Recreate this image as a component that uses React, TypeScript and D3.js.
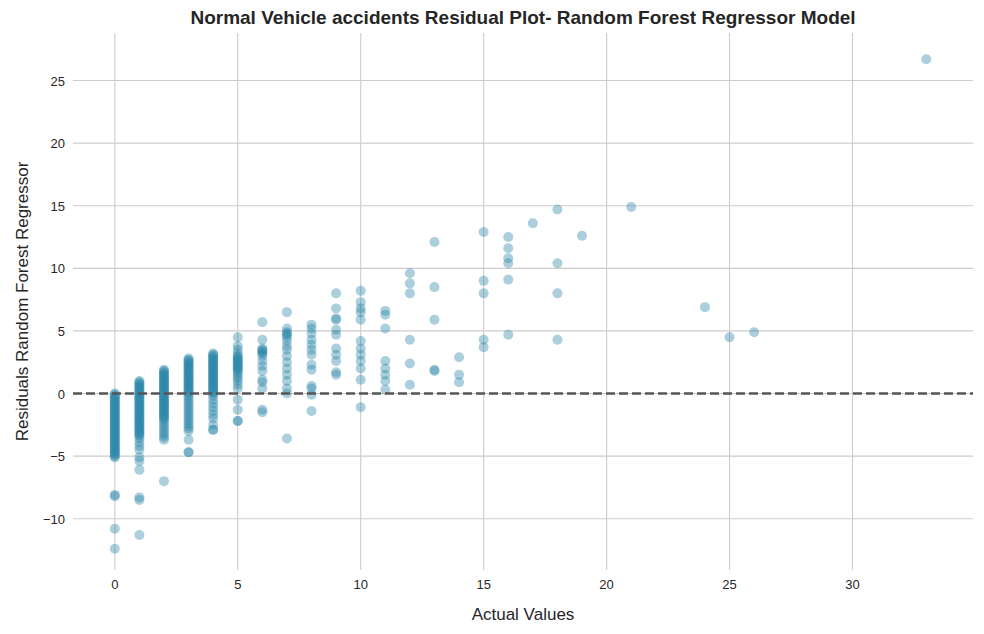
import React from 'react'
import * as d3 from 'd3'

// residuals grouped by actual value
const actual0 = [0, -0.1, -0.2, -0.3, -0.4, -0.5, -0.6, -0.7, -0.8, -0.9, -1, -1.1, -1.2, -1.3, -1.4, -1.5, -1.6, -1.7, -1.8, -1.9, -2, -2.1, -2.2, -2.3, -2.4, -2.5, -2.6, -2.7, -2.8, -2.9, -3, -3.1, -3.2, -3.3, -3.4, -3.5, -3.6, -3.7, -3.8, -3.9, -4, -4.1, -4.2, -4.3, -4.4, -4.5, -4.6, -4.7, -4.8, -4.9, -5, -5.1, -8.1, -8.2, -10.8, -12.4]
const actual1 = [1, 0.9, 0.8, 0.7, 0.6, 0.5, 0.4, 0.3, 0.2, 0.1, 0, -0.1, -0.2, -0.3, -0.4, -0.5, -0.6, -0.7, -0.8, -0.9, -1, -1.1, -1.2, -1.3, -1.4, -1.5, -1.6, -1.7, -1.8, -1.9, -2, -2.1, -2.2, -2.3, -2.4, -2.5, -2.6, -2.7, -2.8, -2.9, -3, -3.1, -3.2, -3.3, -3.4, -3.6, -3.9, -4.2, -4.5, -5.1, -5.4, -6.1, -8.3, -8.5, -11.3]
const actual2 = [1.9, 1.8, 1.7, 1.6, 1.5, 1.4, 1.3, 1.2, 1.1, 1.0, 0.9, 0.8, 0.7, 0.6, 0.5, 0.4, 0.3, 0.2, 0.1, 0, -0.1, -0.2, -0.3, -0.4, -0.5, -0.6, -0.7, -0.8, -0.9, -1.0, -1.1, -1.2, -1.3, -1.4, -1.5, -1.6, -1.7, -1.8, -1.9, -2.0, -2.1, -2.3, -2.5, -2.7, -2.9, -3.1, -3.3, -3.5, -3.7, -7.0]
const actual3 = [2.8, 2.7, 2.6, 2.5, 2.4, 2.3, 2.2, 2.1, 2.0, 1.9, 1.8, 1.7, 1.6, 1.5, 1.4, 1.3, 1.2, 1.1, 1.0, 0.9, 0.8, 0.7, 0.6, 0.5, 0.4, 0.3, 0.2, 0.1, 0, -0.2, -0.4, -0.6, -0.8, -1.0, -1.2, -1.4, -1.6, -1.8, -2.0, -2.2, -2.4, -2.6, -2.8, -3.0, -3.7, -4.7, -4.7]
const actual4 = [3.2, 3.1, 3.0, 2.9, 2.8, 2.7, 2.6, 2.5, 2.4, 2.3, 2.2, 2.1, 2.0, 1.9, 1.8, 1.7, 1.6, 1.5, 1.4, 1.3, 1.2, 1.1, 1.0, 0.9, 0.8, 0.7, 0.6, 0.5, 0.4, 0.3, 0.2, 0.1, 0, -0.2, -0.5, -0.8, -1.1, -1.4, -1.7, -2.0, -2.5, -2.9, -2.9]
const actual5 = [4.5, 3.8, 3.5, 3.2, 3.0, 2.9, 2.8, 2.7, 2.6, 2.5, 2.4, 2.3, 2.2, 2.1, 2.0, 1.9, 1.8, 1.6, 1.4, 1.2, 1.0, 0.7, 0.4, -0.5, -1.3, -2.2, -2.2]
const actual6 = [5.7, 4.3, 3.6, 3.5, 3.4, 3.3, 3.2, 3.0, 2.6, 2.2, 1.8, 1.1, 0.9, 0.4, -1.3, -1.5]
const actual7 = [6.5, 5.2, 4.9, 4.8, 4.7, 4.5, 4.2, 3.8, 3.5, 3.0, 2.5, 2.0, 1.5, 1.0, 0.4, 0, -3.6]
const actual8 = [5.5, 5.2, 4.8, 4.3, 3.9, 3.5, 3.1, 2.3, 1.9, 0.6, 0.4, -0.1, -1.4]
const actual9 = [8.0, 6.8, 6.0, 5.9, 5.1, 4.7, 3.6, 3.1, 2.6, 1.7, 1.5]
const actual10 = [8.2, 7.3, 6.8, 6.5, 5.9, 4.2, 3.6, 3.1, 2.6, 2.0, 1.1, -1.1]
const actual11 = [6.6, 6.3, 5.2, 2.6, 2.0, 1.5, 1.0, 0.3]
const actual12 = [9.6, 8.8, 8.0, 4.3, 2.4, 0.7]
const actual13 = [12.1, 8.5, 5.9, 1.9, 1.8]
const actual14 = [2.9, 1.5, 0.9]
const actual15 = [12.9, 9.0, 8.0, 4.3, 3.7]
const actual16 = [12.5, 11.6, 10.8, 10.4, 9.1, 4.7]
const actual17 = [13.6]
const actual18 = [14.7, 10.4, 8.0, 4.3]
const actual19 = [12.6]
const actual21 = [14.9]
const actual24 = [6.9]
const actual25 = [4.5]
const actual26 = [4.9]
const actual33 = [26.7]

const groups: [number, number[]][] = [
  [0, actual0], [1, actual1], [2, actual2], [3, actual3], [4, actual4], [5, actual5],
  [6, actual6], [7, actual7], [8, actual8], [9, actual9], [10, actual10], [11, actual11],
  [12, actual12], [13, actual13], [14, actual14], [15, actual15], [16, actual16],
  [17, actual17], [18, actual18], [19, actual19], [21, actual21], [24, actual24],
  [25, actual25], [26, actual26], [33, actual33],
]
const xTicks = [0, 5, 10, 15, 20, 25, 30]
const yTicks = [-10, -5, 0, 5, 10, 15, 20, 25]

export default function App() {
  const W = 984, H = 634
  const left = 73, right = 973, top = 33, bottom = 570
  const x = d3.scaleLinear().domain([-1.7, 34.9]).range([left, right])
  const y = d3.scaleLinear().domain([-14.1, 28.8]).range([bottom, top])
  const points = groups.flatMap(([a, rs]) => rs.map(r => ({ a, r })))
  const font = 'Liberation Sans, Arial, sans-serif'
  const fmt = (v: number) => (v < 0 ? '\u2212' + Math.abs(v) : String(v))
  return (
    <svg width={W} height={H} style={{ position: 'absolute', left: 0, top: 0, background: '#fff' }} fontFamily={font}>
      {xTicks.map(t => (
        <g key={'x' + t}>
          <line x1={x(t)} x2={x(t)} y1={top} y2={bottom} stroke="#cccccc" strokeWidth={1.1} />
          <text x={x(t)} y={bottom + 19} textAnchor="middle" fontSize={13} fill="#262626">{t}</text>
        </g>
      ))}
      {yTicks.map(t => (
        <g key={'y' + t}>
          <line x1={left} x2={right} y1={y(t)} y2={y(t)} stroke="#cccccc" strokeWidth={1.1} />
          <text x={left - 8} y={y(t) + 5} textAnchor="end" fontSize={13} fill="#262626">{fmt(t)}</text>
        </g>
      ))}
      {points.map((p, i) => (
        <circle key={i} cx={x(p.a)} cy={y(p.r)} r={5} fill="#2e86ab" fillOpacity={0.4} />
      ))}
      <line x1={left} x2={right} y1={y(0)} y2={y(0)} stroke="#555555" strokeWidth={2.5} strokeDasharray="9,4" />
      <text x={(left + right) / 2} y={24} textAnchor="middle" fontSize={19} fontWeight="bold" fill="#262626">
        Normal Vehicle accidents Residual Plot- Random Forest Regressor Model
      </text>
      <text x={(left + right) / 2} y={620} textAnchor="middle" fontSize={17} fill="#262626">Actual Values</text>
      <text transform={`translate(28,${(top + bottom) / 2}) rotate(-90)`} textAnchor="middle" fontSize={17} fill="#262626">
        Residuals Random Forest Regressor
      </text>
    </svg>
  )
}
